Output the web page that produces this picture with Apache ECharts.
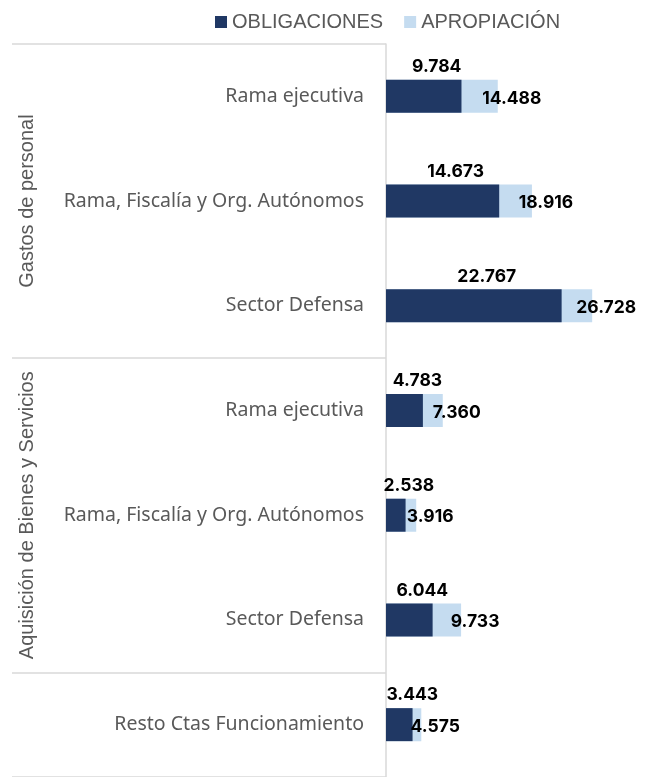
<!DOCTYPE html>
<html>
<head>
<meta charset="utf-8">
<script src="https://cdn.jsdelivr.net/npm/echarts@6/dist/echarts.min.js"></script>
<style>html,body{margin:0;padding:0;background:#fff}#c{width:660px;height:777px}</style>
</head>
<body>
<div id="c"></div>
<script>
const categories = ['Rama ejecutiva', 'Rama, Fiscalía y Org. Autónomos', 'Sector Defensa', 'Rama ejecutiva', 'Rama, Fiscalía y Org. Autónomos', 'Sector Defensa', 'Resto Ctas Funcionamiento'];
const groupNames = ['Gastos de personal', 'Aquisición de Bienes y Servicios', ''];
const groupSizes = [3, 3, 1];
const obligaciones = [9784, 14673, 22767, 4783, 2538, 6044, 3443];
const apropiacion = [14488, 18916, 26728, 7360, 3916, 9733, 4575];
const seriesNames = ['OBLIGACIONES', 'APROPIACIÓN'];

// derived: group label axis data and boundaries
const groupAxisData = [];
const boundaries = [];
let idx = 0;
groupSizes.forEach(function (s, g) {
  boundaries.push(idx);
  for (let i = 0; i < s; i++) {
    groupAxisData.push(i === Math.floor((s - 1) / 2) ? groupNames[g] : '');
  }
  idx += s;
});

function fmt(v) { return String(v).replace(/\B(?=(\d{3})+(?!\d))/g, '.'); }

const CAT_FONT = 'Noto Sans';
const ARIAL = 'Liberation Sans';
const VAL_FONT = 'Inter';
const chart = echarts.init(document.getElementById('c'), null, {renderer: 'canvas'});
chart.setOption({
  animation: false,
  legend: {
    data: seriesNames,
    left: 210, top: 7,
    itemWidth: 12, itemHeight: 12, itemGap: 21,
    icon: 'rect',
    textStyle: {color: '#595959', fontSize: 20, fontFamily: ARIAL}
  },
  grid: {left: 386, right: 4, top: 44, bottom: -4},
  xAxis: {type: 'value', min: 0, max: 35000, show: false},
  yAxis: [{
    type: 'category', inverse: true, data: categories,
    axisLine: {lineStyle: {color: '#D9D9D9', width: 1.5}},
    axisTick: {show: true, length: 374, interval: function (i) { return boundaries.indexOf(i) >= 0; },
      lineStyle: {color: '#D9D9D9', width: 1.5}},
    axisLabel: {interval: 0, margin: 22, color: '#595959', fontSize: 19.5, fontFamily: CAT_FONT}
  }, {
    type: 'category', inverse: true, data: groupAxisData, position: 'left', offset: 349,
    axisLine: {show: false}, axisTick: {show: false},
    axisLabel: {interval: function (i) { return groupAxisData[i] !== ''; }, rotate: 90, margin: 0,
      color: '#595959', fontSize: 20, fontFamily: ARIAL}
  }],
  series: [{
    name: seriesNames[1], type: 'bar', data: apropiacion, barWidth: 33, barGap: '-100%',
    itemStyle: {color: '#C5DCF0'},
    label: {show: true, position: ['100%', '50%'], align: 'center', verticalAlign: 'middle', offset: [14, 2],
      formatter: function (p) { return fmt(p.value); },
      color: '#000', fontWeight: 'bold', fontSize: 17.5, fontFamily: VAL_FONT}
  }, {
    name: seriesNames[0], type: 'bar', data: obligaciones, barWidth: 33, barGap: '-100%',
    itemStyle: {color: '#203864'},
    label: {show: true, position: 'top', distance: 4, offset: [13, 0],
      formatter: function (p) { return fmt(p.value); },
      color: '#000', fontWeight: 'bold', fontSize: 17.5, fontFamily: VAL_FONT}
  }]
});
</script>
</body>
</html>
